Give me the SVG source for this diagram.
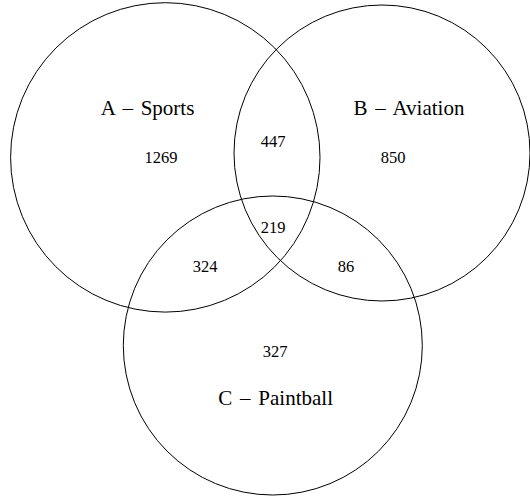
<svg xmlns="http://www.w3.org/2000/svg" width="530" height="497" viewBox="0 0 530 497">
<style>
.c{fill:none;stroke:#000;stroke-width:1}
.t{font-family:"Liberation Serif","Times New Roman",serif;fill:#000;text-anchor:middle}
.l{font-size:21px;word-spacing:2.5px}
.n{font-size:16.5px}
</style>
<rect width="530" height="497" fill="#fff"/>
<g id="setA">
<circle class="c" cx="165.3" cy="157.4" r="154.7"/>
<text class="t l" x="147.5" y="115">A – Sports</text>
<text class="t n" x="161" y="163">1269</text>
</g>
<g id="setB">
<circle class="c" cx="382" cy="153" r="148"/>
<text class="t l" x="409" y="115">B – Aviation</text>
<text class="t n" x="393" y="163">850</text>
</g>
<g id="setC">
<circle class="c" cx="272.8" cy="345.5" r="149.5"/>
<text class="t l" x="275.7" y="405">C – Paintball</text>
<text class="t n" x="275" y="357">327</text>
</g>
<g id="overlaps">
<text class="t n" x="273" y="147">447</text>
<text class="t n" x="273" y="233">219</text>
<text class="t n" x="205" y="272">324</text>
<text class="t n" x="346" y="272">86</text>
</g>
</svg>
